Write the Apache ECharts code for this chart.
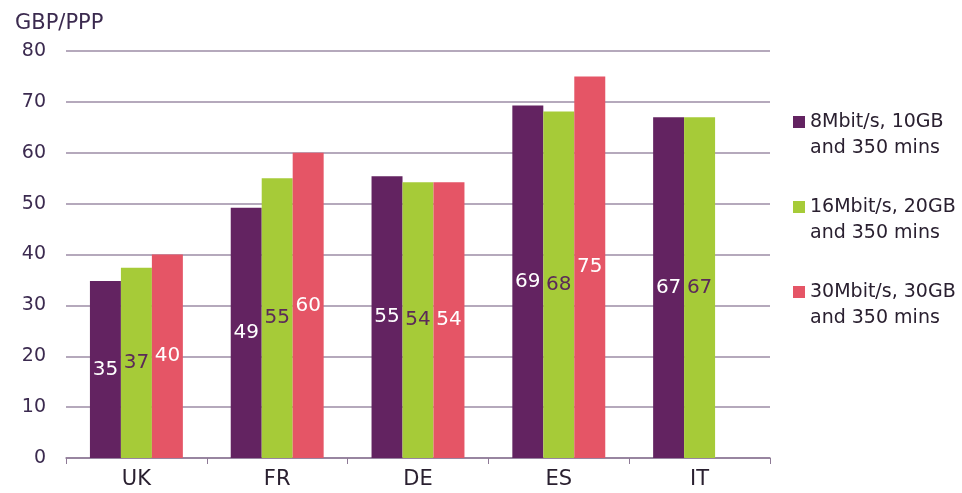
<!DOCTYPE html>
<html>
<head>
<meta charset="utf-8">
<script src="https://cdn.jsdelivr.net/npm/echarts@6/dist/echarts.min.js"></script>
<style>
html,body{margin:0;padding:0;background:#fff;}
#chart{width:962px;height:493px;}
</style>
</head>
<body>
<div id="chart"></div>
<script>
// 国家
var countries = ['UK', 'FR', 'DE', 'ES', 'IT'];
// 套餐名称
var seriesNames = ['8Mbit/s, 10GB\nand 350 mins', '16Mbit/s, 20GB\nand 350 mins', '30Mbit/s, 30GB\nand 350 mins'];
// 柱高 (GBP/PPP)
var speed8 = [34.8, 49.2, 55.4, 69.3, 67];
var speed16 = [37.4, 55, 54.2, 68.1, 67];
var speed30 = [40, 60, 54.2, 75, null];
var yTicks = [0, 10, 20, 30, 40, 50, 60, 70, 80];

var colors = ['#632361', '#a6cb38', '#e55566'];
var labelColors = ['#ffffff', '#5b2a58', '#ffffff'];
var FONT = 'DejaVu Sans, Arial, sans-serif';

var myChart = echarts.init(document.getElementById('chart'));

function makeSeries(idx, data) {
	return {
		name: seriesNames[idx],
		type: 'bar',
		data: data,
		barGap: '0%',
		barCategoryGap: '34%',
		itemStyle: { color: colors[idx] },
		label: {
			show: true,
			position: 'inside',
			color: labelColors[idx],
			fontSize: 20,
			fontFamily: FONT,
			formatter: function (p) { return Math.round(p.value); }
		}
	};
}

var option = {
	animation: false,
	title: {
		text: 'GBP/PPP',
		left: 10,
		top: 8,
		textStyle: { fontSize: 21, fontWeight: 'normal', color: '#3b2a4f', fontFamily: FONT }
	},
	legend: {
		orient: 'vertical',
		left: 788,
		top: 78,
		itemWidth: 12,
		itemHeight: 12,
		itemGap: 7,
		icon: 'rect',
		textStyle: { fontSize: 19, color: '#2a2030', lineHeight: 26, fontFamily: FONT },
		// 图标对齐第一行文字
		formatter: function (name) { return ' \n' + name; },
		data: seriesNames
	},
	grid: {
		left: 66,
		right: 192,
		top: 51,
		bottom: 35
	},
	xAxis: {
		type: 'category',
		data: countries,
		axisLine: { lineStyle: { color: '#8e7a96', width: 1.5 } },
		axisTick: { show: true, length: 6, lineStyle: { color: '#8e7a96' } },
		axisLabel: { fontSize: 21, color: '#2a2030', margin: 11, fontFamily: FONT }
	},
	yAxis: {
		type: 'value',
		min: yTicks[0],
		max: yTicks[yTicks.length - 1],
		interval: 10,
		axisLine: { show: false },
		axisTick: { show: false },
		splitLine: { lineStyle: { color: '#9d8ca6', width: 1.5 } },
		axisLabel: { fontSize: 19, color: '#3b2a4f', margin: 20, fontFamily: FONT }
	},
	series: [
		makeSeries(0, speed8),
		makeSeries(1, speed16),
		makeSeries(2, speed30)
	]
};
myChart.setOption(option);
</script>
</body>
</html>
